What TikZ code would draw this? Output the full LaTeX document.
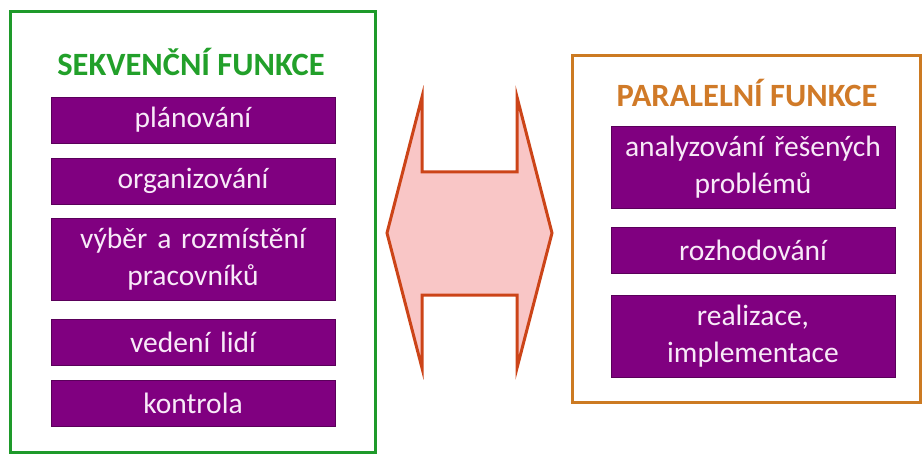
\documentclass[tikz,border=0pt]{standalone}
\usepackage{fontspec}
\setmainfont{Carlito}
\definecolor{frameGreen}{HTML}{1E9A2A}
\definecolor{titleGreen}{HTML}{22A02A}
\definecolor{frameOrange}{HTML}{CC7A22}
\definecolor{titleOrange}{HTML}{D07A28}
\definecolor{funcPurple}{HTML}{800080}
\definecolor{funcText}{HTML}{F8EAF8}
\definecolor{arrowRed}{HTML}{CC4418}
\definecolor{arrowPink}{HTML}{F9C6C6}
\begin{document}
\begin{tikzpicture}[x=1pt, y=-1pt, line join=miter,
    frame/.style={draw, line width=3pt},
    title/.style={font=\fontsize{32.5}{36}\selectfont\bfseries, inner sep=0pt},
    func box/.style={rectangle, draw=funcPurple!70!black, line width=0.8pt, fill=funcPurple, text=funcText, minimum width=284pt, text width=280pt, align=center, inner sep=0pt, font=\fontsize{29.5}{37}\selectfont},
    two/.style={minimum height=82pt}, one/.style={minimum height=46pt}]
    \useasboundingbox (0,0) rectangle (923,454);
    % left frame
    \draw[frame, frameGreen] (10,12) rectangle (375,452);
    \node[title, text=titleGreen](seqT) at (191,62){SEKVENČNÍ FUNKCE};
    \node[func box, one](plan) at (193,120){plánování};
    \node[func box, one](org) at (193,181){organizování};
    \node[func box, two](sel) at (193,259){výběr a rozmístění\\pracovníků};
    \node[func box, one](lead) at (193,342){vedení lidí};
    \node[func box, one](ctrl) at (193,403){kontrola};
    % right frame
    \draw[frame, frameOrange] (572,56) rectangle (920,402);
    \node[title, text=titleOrange](parT) at (747,93){PARALELNÍ FUNKCE};
    \node[func box, two](anal) at (753,167.5){analyzování řešených\\problémů};
    \node[func box, one](dec) at (753,250){rozhodování};
    \node[func box, two](impl) at (753,336){realizace,\\implementace};
    % double arrow
    \draw[arrowRed, fill=arrowPink, line width=3pt]
        (387,233) -- (422,97) -- (422,172) -- (517,172) -- (517,97) -- (552,233)
        -- (517,368) -- (517,295) -- (422,295) -- (422,368) -- cycle;
\end{tikzpicture}
\end{document}
